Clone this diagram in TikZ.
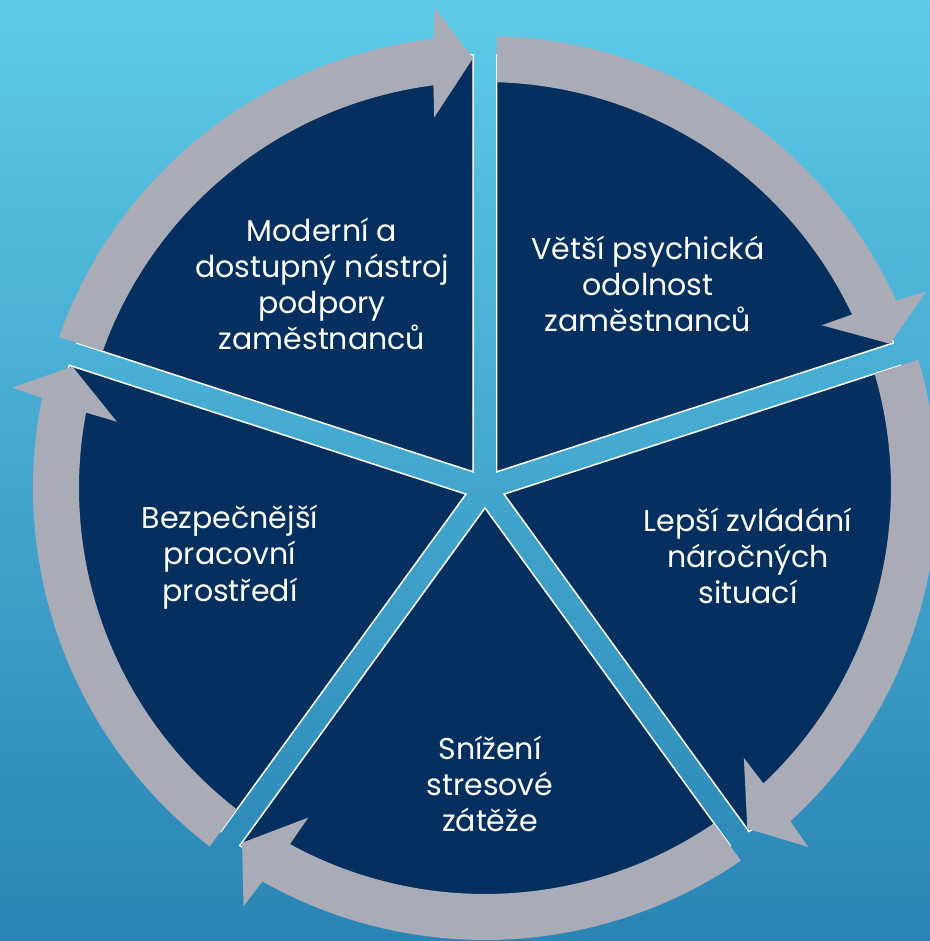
\documentclass[tikz,border=0pt]{standalone}
\usepackage{fontspec}
\setmainfont{Poppins}
\definecolor{navy}{RGB}{5,47,94}
\definecolor{ringgray}{RGB}{169,171,183}
\definecolor{bgtop}{RGB}{93,202,232}
\definecolor{bgbot}{RGB}{42,132,181}
\tikzset{
  sector/.style={fill=navy, draw=white, line width=0.85pt, line join=miter},
  ringarrow/.style={fill=ringgray},
  label/.style={text=white, align=center, inner sep=0pt, font=\fontsize{17.1}{20.6}\selectfont}
}
\begin{document}
\begin{tikzpicture}[x=0.02cm,y=0.02cm]
\fill[top color=bgtop,bottom color=bgbot] (-485,-453) rectangle (445,488);
\useasboundingbox (-485,-453) rectangle (445,488);
% sectors (exploded pie)
\foreach \b in {54,-18,-90,198,126} {
  \pgfmathsetmacro\lo{\b-36}
  \pgfmathsetmacro\hi{\b+36}
  \begin{scope}[shift={(\b:20)}]
    \filldraw[sector] (0,0) -- (\lo:417) arc[start angle=\lo, end angle=\hi, radius=417] -- cycle;
  \end{scope}
}
% circular arrows
\foreach \g in {90,18,-54,-126,162} {
  \pgfmathsetmacro\ta{\g-1.52}
  \pgfmathsetmacro\tb{\g-1.69}
  \pgfmathsetmacro\p{\g-72+1.6}
  \pgfmathsetmacro\bo{\p+4.9}
  \pgfmathsetmacro\bi{\p+5.7}
  \pgfmathsetmacro\ho{\p+4.4}
  \pgfmathsetmacro\hin{\p+6.2}
  \fill[ringarrow] (\ta:452) arc[start angle=\ta, end angle=\bo, radius=452]
    -- (\ho:483) -- (\p:430) -- (\hin:374) -- (\bi:406)
    arc[start angle=\bi, end angle=\tb, radius=406] -- cycle;
}
\node[label] (tl) at (-163,204) {Moderní a\\dostupný nástroj\\podpory\\zaměstnanců};
\node[label] (tr) at (163,204) {Větší psychická\\odolnost\\zaměstnanců};
\node[label] (r) at (263,-68) {Lepší zvládání\\náročných\\situací};
\node[label] (b) at (5,-296) {Snížení\\stresové\\zátěže};
\node[label] (l) at (-255,-69) {Bezpečnější\\pracovní\\prostředí};
\end{tikzpicture}
\end{document}
